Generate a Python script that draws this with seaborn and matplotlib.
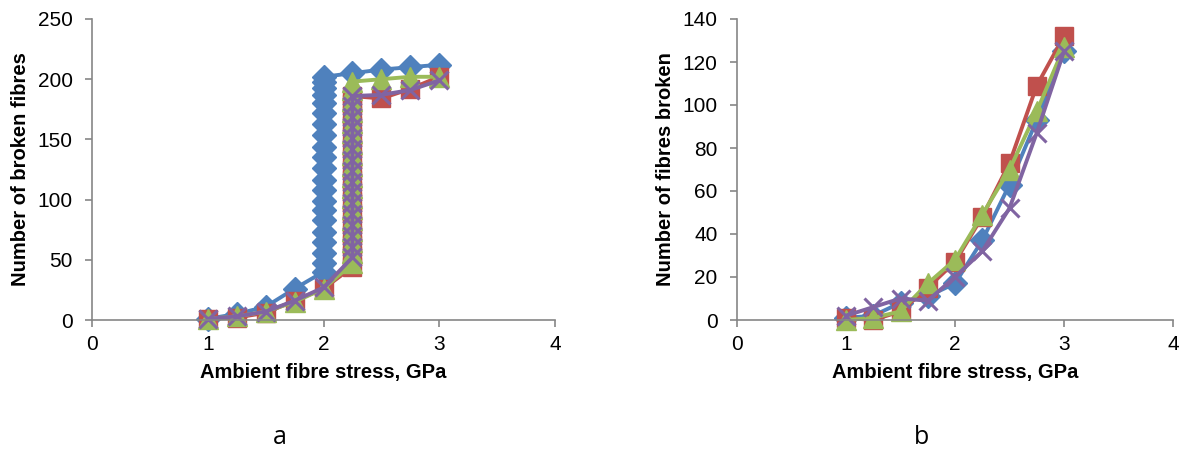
import matplotlib
matplotlib.use("Agg")
import matplotlib.pyplot as plt
import seaborn as sns
import pandas as pd

sns.set_theme(style="white")
plt.rcParams['font.family'] = ['Liberation Sans', 'DejaVu Sans']

# ---------------- Data: panel a ----------------
a_blue_x = [1, 1.25, 1.5, 1.75, 2, 2, 2, 2, 2, 2, 2, 2, 2, 2, 2, 2, 2, 2, 2, 2, 2, 2, 2, 2, 2,
            2.25, 2.5, 2.75, 3]
a_blue_y = [1, 5, 11, 26, 40, 47, 56, 65, 73, 83, 91, 99, 108, 116, 126, 135, 144, 154, 163, 172,
            180, 187, 193, 198, 202, 205, 208, 210, 212]

a_red_x = [1, 1.25, 1.5, 1.75, 2, 2.25, 2.25, 2.25, 2.25, 2.25, 2.25, 2.25, 2.25, 2.25, 2.25, 2.25,
           2.25, 2.25, 2.25, 2.25, 2.25, 2.25, 2.5, 2.75, 3]
a_red_y = [1, 2, 6, 16, 26, 44, 53, 62, 71, 80, 89, 98, 107, 116, 125, 134, 143, 152, 161, 170,
           179, 186, 184, 192, 202]

a_green_x = [1, 1.25, 1.5, 1.75, 2, 2.25, 2.25, 2.25, 2.25, 2.25, 2.25, 2.25, 2.25, 2.25, 2.25,
             2.25, 2.25, 2.25, 2.25, 2.25, 2.25, 2.25, 2.25, 2.5, 2.75, 3]
a_green_y = [1, 3, 7, 15, 26, 47, 56, 65, 74, 83, 92, 101, 110, 119, 128, 137, 146, 155, 164,
             173, 182, 191, 198, 200, 202, 202]

a_purple_x = [1, 1.25, 1.5, 1.75, 2, 2.25, 2.25, 2.25, 2.25, 2.25, 2.25, 2.25, 2.25, 2.25, 2.25,
              2.25, 2.25, 2.25, 2.25, 2.25, 2.25, 2.5, 2.75, 3]
a_purple_y = [1, 3, 7, 16, 27, 52, 61, 70, 79, 88, 97, 106, 115, 124, 133, 142, 151, 160, 169,
              178, 186, 187, 191, 199]

# ---------------- Data: panel b ----------------
b_x = [1, 1.25, 1.5, 1.75, 2, 2.25, 2.5, 2.75, 3]
b_blue_y = [1, 2, 8, 11, 17, 37, 63, 93, 125]
b_red_y = [1, 0, 4, 15, 27, 48, 73, 109, 132]
b_green_y = [0, 1, 4, 17, 28, 49, 70, 97, 127]
b_purple_y = [2, 6, 10, 9, 20, 32, 52, 87, 125]

BLUE, RED, GREEN, PURPLE = "#4F81BD", "#C0504D", "#9BBB59", "#8064A2"
LW = 2.8

fig = plt.figure(figsize=(11.83, 4.58), dpi=100)
W, H = 1183, 458
axa = fig.add_axes([92 / W, 1 - 320 / H, (555 - 92) / W, (320 - 19) / H])
axb = fig.add_axes([737 / W, 1 - 320 / H, (1173 - 737) / W, (320 - 19) / H])


def draw(ax, x, y, color, marker, ms, mew=1):
    df = pd.DataFrame({"x": x, "y": y})
    kw = dict(markerfacecolor=color, markeredgecolor=color)
    sns.lineplot(data=df, x="x", y="y", ax=ax, estimator=None, sort=False, color=color,
                 linewidth=LW, marker=marker, markersize=ms, markeredgewidth=mew,
                 clip_on=False, **kw)


draw(axa, a_blue_x, a_blue_y, BLUE, "D", 12)
draw(axa, a_red_x, a_red_y, RED, "s", 13.5)
draw(axa, a_green_x, a_green_y, GREEN, "^", 14)
draw(axa, a_purple_x, a_purple_y, PURPLE, "x", 13.5, mew=2.2)

draw(axb, b_x, b_blue_y, BLUE, "D", 12)
draw(axb, b_x, b_red_y, RED, "s", 13.5)
draw(axb, b_x, b_green_y, GREEN, "^", 14)
draw(axb, b_x, b_purple_y, PURPLE, "x", 13.5, mew=2.2)

for ax, ymax, ystep, ylab in [(axa, 250, 50, "Number of broken fibres"),
                              (axb, 140, 20, "Number of fibres broken")]:
    ax.set_xlim(0, 4)
    ax.set_ylim(0, ymax)
    ax.set_xticks([0, 1, 2, 3, 4])
    ax.set_yticks(list(range(0, ymax + 1, ystep)))
    for s in ["top", "right"]:
        ax.spines[s].set_visible(False)
    for s in ["left", "bottom"]:
        ax.spines[s].set_color("#868686")
        ax.spines[s].set_linewidth(1.2)
    ax.tick_params(axis="both", which="major", direction="out", length=5, width=1.2,
                   color="#868686", labelsize=15, labelcolor="black",
                   left=True, bottom=True)
    ax.tick_params(axis="y", pad=9)
    ax.tick_params(axis="x", pad=6)
    ax.set_xlabel("Ambient fibre stress, GPa", fontsize=14.5, fontweight="bold",
                  labelpad=6, color="black")
    ax.set_ylabel(ylab, fontsize=14.5, fontweight="bold", labelpad=5, color="black")
    ax.grid(False)
    ax.set_facecolor("white")
    leg = ax.get_legend()
    if leg:
        leg.remove()

fig.text(280 / W, 1 - 438 / H, "a", fontsize=18, family=["Open Sans", "DejaVu Sans"],
         ha="center", va="center", color="black")
fig.text(921 / W, 1 - 438 / H, "b", fontsize=18, family=["Open Sans", "DejaVu Sans"],
         ha="center", va="center", color="black")

fig.savefig("out.png", dpi=100, facecolor="white")
